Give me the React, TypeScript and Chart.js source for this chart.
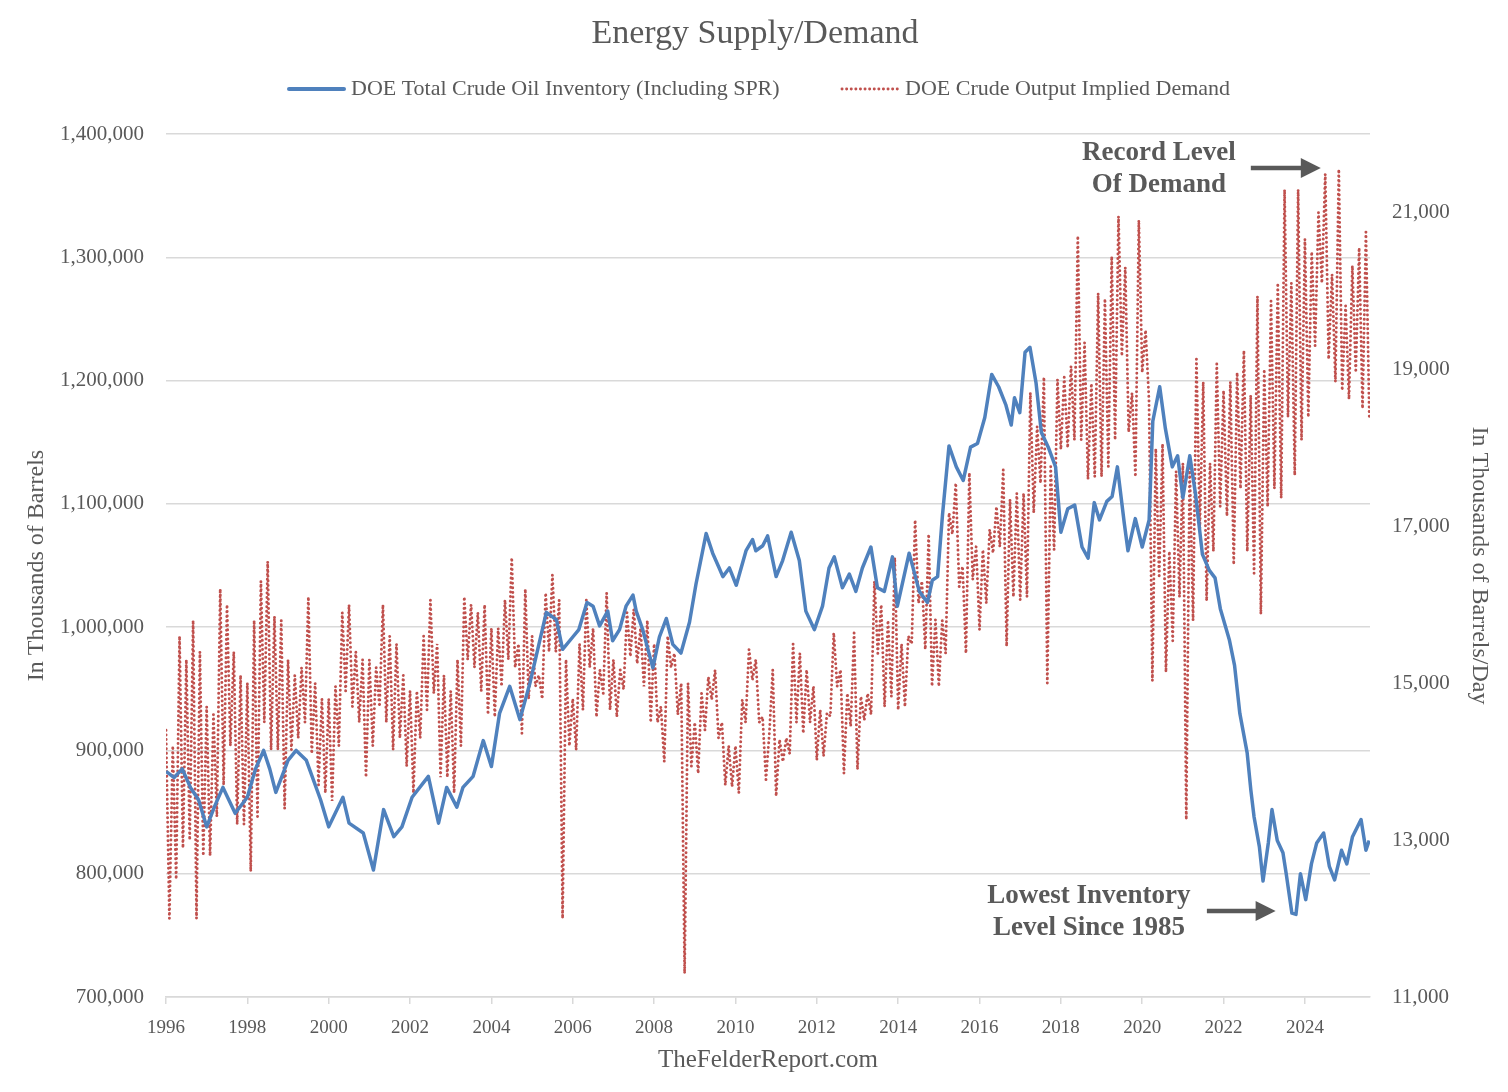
import React, { useEffect, useRef } from 'react';
import Chart from 'chart.js/auto';

const TEXT = '#595959';
const GRID = '#D9D9D9';
const BLUE = '#4F81BD';
const RED = '#C0504D';
const FONT = '"Liberation Serif", "Times New Roman", serif';

// axis ticks
const yearTicks = [1996, 1998, 2000, 2002, 2004, 2006, 2008, 2010, 2012, 2014, 2016, 2018, 2020, 2022, 2024];
const barrelTicks = [700000, 800000, 900000, 1000000, 1100000, 1200000, 1300000, 1400000];
const demandTicks = [11000, 13000, 15000, 17000, 19000, 21000];

// DOE total crude inventory incl. SPR (thousand barrels)
const invYears = [
  1996.0, 1996.2, 1996.4, 1996.6, 1996.8, 1997.0, 1997.2, 1997.4, 1997.7, 1998.0,
  1998.2, 1998.4, 1998.55, 1998.7, 1999.0, 1999.2, 1999.45, 1999.8, 2000.0, 2000.35,
  2000.5, 2000.85, 2001.1, 2001.35, 2001.6, 2001.8, 2002.05, 2002.45, 2002.7, 2002.9,
  2003.15, 2003.3, 2003.55, 2003.8, 2004.0, 2004.2, 2004.45, 2004.7, 2004.95, 2005.35,
  2005.6, 2005.75, 2006.0, 2006.15, 2006.35, 2006.5, 2006.66, 2006.86, 2006.98, 2007.15,
  2007.31, 2007.48, 2007.56, 2007.72, 2007.97, 2008.13, 2008.3, 2008.46, 2008.66, 2008.87,
  2009.03, 2009.28, 2009.44, 2009.6, 2009.69, 2009.85, 2010.02, 2010.26, 2010.42, 2010.5,
  2010.67, 2010.79, 2011.0, 2011.16, 2011.37, 2011.57, 2011.73, 2011.94, 2012.14, 2012.3,
  2012.43, 2012.63, 2012.8, 2012.96, 2013.12, 2013.33, 2013.49, 2013.66, 2013.86, 2013.98,
  2014.27, 2014.52, 2014.72, 2014.84, 2014.97, 2015.09, 2015.25, 2015.43, 2015.6, 2015.78,
  2015.95, 2016.13, 2016.3, 2016.47, 2016.65, 2016.78, 2016.86, 2016.99, 2017.12, 2017.24,
  2017.39, 2017.52, 2017.69, 2017.87, 2018.0, 2018.17, 2018.34, 2018.52, 2018.67, 2018.82,
  2018.95, 2019.13, 2019.26, 2019.39, 2019.56, 2019.65, 2019.83, 2020.0, 2020.17, 2020.26,
  2020.43, 2020.57, 2020.74, 2020.87, 2021.0, 2021.17, 2021.31, 2021.48, 2021.65, 2021.79,
  2021.92, 2022.14, 2022.27, 2022.4, 2022.49, 2022.58, 2022.67, 2022.75, 2022.88, 2022.97,
  2023.1, 2023.19, 2023.32, 2023.46, 2023.54, 2023.68, 2023.78, 2023.89, 2024.02, 2024.16,
  2024.29, 2024.46, 2024.6, 2024.73, 2024.9, 2025.03, 2025.17, 2025.38, 2025.5, 2025.58,
];
const invLevels = [
  883000, 878000, 885000, 870000, 860000, 838000, 855000, 870000, 849000, 862000,
  885000, 900000, 885000, 866000, 892000, 900000, 892000, 860000, 838000, 862000,
  841000, 833000, 803000, 852000, 830000, 838000, 862000, 879000, 841000, 870000,
  854000, 870000, 879000, 908000, 887000, 930000, 952000, 925000, 955000, 1012000,
  1006000, 982000, 992000, 998000, 1020000, 1017000, 1001000, 1013000, 989000, 998000,
  1017000, 1026000, 1013000, 998000, 967000, 992000, 1007000, 986000, 979000, 1004000,
  1035000, 1076000, 1060000, 1048000, 1041000, 1048000, 1034000, 1062000, 1071000, 1062000,
  1066000, 1074000, 1041000, 1054000, 1077000, 1054000, 1013000, 998000, 1017000, 1048000,
  1057000, 1032000, 1043000, 1029000, 1048000, 1065000, 1032000, 1029000, 1057000, 1017000,
  1060000, 1029000, 1020000, 1038000, 1041000, 1091000, 1147000, 1130000, 1119000, 1146000,
  1149000, 1170000, 1205000, 1195000, 1180000, 1164000, 1186000, 1174000, 1223000, 1227000,
  1198000, 1158000, 1146000, 1130000, 1077000, 1096000, 1099000, 1065000, 1056000, 1101000,
  1087000, 1102000, 1106000, 1130000, 1084000, 1062000, 1088000, 1065000, 1087000, 1167000,
  1195000, 1161000, 1130000, 1139000, 1105000, 1139000, 1108000, 1059000, 1046000, 1040000,
  1015000, 990000, 969000, 930000, 914000, 898000, 868000, 846000, 822000, 794000,
  825000, 852000, 827000, 817000, 800000, 768000, 767000, 800000, 779000, 808000,
  825000, 833000, 806000, 795000, 819000, 808000, 830000, 844000, 819000, 827000,
];

// DOE crude output implied demand (thousand b/d), monthly readings from Jan 1996
const demandStart = 1996;
const impliedDemand = [
  14400, 12000, 14200, 12500, 15600, 12900, 15300, 13000, 15800, 12000, 15400, 12800, // 1996
  14700, 12800, 14600, 13300, 16200, 13700, 16000, 14200, 15400, 13200, 15100, 13200, // 1997
  15000, 12600, 15800, 13300, 16300, 14500, 16550, 14150, 15850, 14150, 15800, 13400, // 1998
  15300, 14150, 15100, 14300, 15200, 14500, 16100, 14100, 15000, 13700, 14800, 13600, // 1999
  14800, 13500, 14960, 14200, 15900, 14900, 16000, 14700, 15400, 14500, 15300, 13800, // 2000
  15300, 14200, 15200, 14700, 16000, 14500, 15600, 14150, 15500, 14300, 15100, 13940, // 2001
  14900, 13600, 14900, 14300, 15600, 14660, 16060, 14870, 15500, 13800, 15100, 13800, // 2002
  14900, 13600, 15300, 14200, 16100, 15300, 16000, 15200, 15900, 14900, 16000, 14600, // 2003
  15700, 14570, 15700, 14960, 16060, 15300, 16600, 15200, 15500, 14360, 16200, 14800, // 2004
  15600, 14960, 15100, 14800, 16150, 15400, 16380, 15400, 16060, 12000, 15300, 14200, // 2005
  14800, 14150, 15500, 14660, 16060, 15200, 15700, 14570, 15170, 14870, 16150, 14660, // 2006
  15300, 14570, 15170, 14920, 15900, 15340, 15940, 15250, 15700, 14960, 15800, 14500, // 2007
  15500, 14500, 14700, 14000, 15600, 15200, 15380, 14600, 15000, 11300, 15000, 13940, // 2008
  14500, 13850, 14870, 14400, 15080, 14790, 15170, 14300, 14500, 13700, 14200, 13680, // 2009
  14200, 13600, 14790, 14500, 15430, 15040, 15300, 14500, 14570, 13770, 14360, 15170, // 2010
  13560, 14280, 14000, 14300, 14100, 15500, 14500, 15380, 14360, 15170, 14500, 14960, // 2011
  14020, 14660, 14070, 14620, 14580, 15640, 14960, 15170, 13850, 14870, 14450, 15640, // 2012
  13900, 14830, 14530, 14870, 14600, 16300, 15380, 16000, 14700, 15800, 14830, 16600, // 2013
  14660, 15500, 14700, 15600, 15500, 17080, 16020, 16300, 15430, 16900, 14960, 15810, // 2014
  14960, 15800, 15380, 17170, 16900, 17550, 16230, 16490, 15380, 17680, 16320, 16740, // 2015
  15680, 16700, 16020, 16960, 16660, 17250, 16740, 17720, 15470, 17340, 16100, 17420, // 2016
  16060, 17420, 16100, 18700, 17170, 18270, 17550, 18900, 15000, 17760, 16700, 18870, // 2017
  17980, 18900, 18000, 19040, 18100, 20700, 18100, 19340, 17600, 18820, 17630, 19970, // 2018
  17630, 19900, 17760, 20440, 18100, 20950, 19170, 20300, 18200, 18700, 17630, 20900, // 2019
  18960, 19500, 18600, 15030, 17990, 16340, 18050, 15140, 16680, 15540, 17700, 16100, // 2020
  17800, 13260, 17800, 15800, 19130, 16970, 18840, 16050, 17800, 16680, 19070, 17250, // 2021
  18730, 17130, 18840, 16510, 18960, 17480, 19240, 16680, 18670, 16400, 19930, 15880, // 2022
  19000, 17250, 19870, 17480, 20100, 17360, 21290, 18390, 20100, 17650, 21290, 18100, // 2023
  20660, 18390, 20500, 19300, 21000, 20100, 21490, 19130, 20210, 18840, 21550, 18730, // 2024
  19810, 18620, 20320, 18960, 20550, 18500, 20750, 18390, // 2025
];

// callouts, anchored on year / left-axis level
const callouts = [
  { lines: ['Record Level', 'Of Demand'], year: 2020.41, levels: [1384600, 1358600], arrowFrom: 2022.67, arrowTo: 2024.39, arrowLevel: 1372400 },
  { lines: ['Lowest Inventory', 'Level Since 1985'], year: 2018.69, levels: [782000, 756000], arrowFrom: 2021.59, arrowTo: 2023.28, arrowLevel: 769800 },
];

const decorations = {
  id: 'decorations',
  afterDraw(chart: any) {
    const { ctx } = chart;
    const xs = chart.scales.x;
    const ys = chart.scales.y;
    ctx.save();

    // title
    ctx.fillStyle = TEXT;
    ctx.textAlign = 'center';
    ctx.textBaseline = 'middle';
    ctx.font = `34px ${FONT}`;
    ctx.fillText('Energy Supply/Demand', 755, 34);

    // legend
    ctx.font = `22px ${FONT}`;
    ctx.textAlign = 'left';
    ctx.lineCap = 'round';
    ctx.strokeStyle = BLUE;
    ctx.lineWidth = 4;
    ctx.beginPath();
    ctx.moveTo(289, 89);
    ctx.lineTo(344, 89);
    ctx.stroke();
    ctx.fillText('DOE Total Crude Oil Inventory (Including SPR)', 351, 89);
    ctx.strokeStyle = RED;
    ctx.lineWidth = 2.9;
    ctx.setLineDash([0.1, 4.5]);
    ctx.beginPath();
    ctx.moveTo(842, 89);
    ctx.lineTo(898, 89);
    ctx.stroke();
    ctx.setLineDash([]);
    ctx.fillText('DOE Crude Output Implied Demand', 905, 89);

    // callouts
    ctx.font = `bold 27px ${FONT}`;
    ctx.textAlign = 'center';
    ctx.fillStyle = TEXT;
    callouts.forEach(c => {
      const cx = xs.getPixelForValue(c.year);
      c.lines.forEach((t, i) => ctx.fillText(t, cx, ys.getPixelForValue(c.levels[i])));
      const x1 = xs.getPixelForValue(c.arrowFrom);
      const x2 = xs.getPixelForValue(c.arrowTo);
      const ay = ys.getPixelForValue(c.arrowLevel);
      ctx.strokeStyle = TEXT;
      ctx.lineWidth = 4.5;
      ctx.lineCap = 'butt';
      ctx.beginPath();
      ctx.moveTo(x1, ay);
      ctx.lineTo(x2 - 18, ay);
      ctx.stroke();
      ctx.beginPath();
      ctx.moveTo(x2, ay);
      ctx.lineTo(x2 - 20, ay - 10);
      ctx.lineTo(x2 - 20, ay + 10);
      ctx.closePath();
      ctx.fill();
    });

    ctx.restore();
  },
};

export default function App() {
  const canvasRef = useRef<HTMLCanvasElement>(null);

  useEffect(() => {
    if (!canvasRef.current) return;

    const chart = new Chart(canvasRef.current, {
      type: 'line',
      data: {
        datasets: [
          {
            label: 'DOE Total Crude Oil Inventory (Including SPR)',
            data: invYears.map((x, i) => ({ x, y: invLevels[i] })),
            yAxisID: 'y',
            borderColor: BLUE,
            borderWidth: 3.5,
            pointRadius: 0,
            tension: 0,
            borderJoinStyle: 'round',
          },
          {
            label: 'DOE Crude Output Implied Demand',
            data: impliedDemand.map((v, i) => ({ x: demandStart + i / 12, y: v })),
            yAxisID: 'y1',
            borderColor: RED,
            borderWidth: 2.9,
            borderDash: [0.1, 4.5],
            borderCapStyle: 'round',
            pointRadius: 0,
            tension: 0,
          },
        ],
      },
      options: {
        responsive: false,
        animation: false,
        events: [],
        layout: { padding: { top: 134, left: 0, right: 0, bottom: 0 } },
        plugins: {
          legend: { display: false },
          title: { display: false },
          tooltip: { enabled: false },
        },
        scales: {
          x: {
            type: 'linear',
            min: 1996,
            max: 2025.6,
            afterFit: (s: any) => { s.height = 95; },
            afterBuildTicks: (s: any) => { s.ticks = yearTicks.map(value => ({ value })); },
            grid: { drawOnChartArea: false, drawTicks: true, tickLength: 7, color: GRID, lineWidth: 1.5 },
            border: { display: true, color: GRID, width: 1.5 },
            ticks: {
              autoSkip: false,
              maxRotation: 0,
              padding: 13,
              color: TEXT,
              font: { family: FONT, size: 19 },
              callback: (v: any) => String(v),
            },
            title: {
              display: true,
              text: 'TheFelderReport.com',
              color: TEXT,
              font: { family: FONT, size: 25 },
              padding: { top: 0, bottom: 17 },
            },
          },
          y: {
            position: 'left',
            min: 700000,
            max: 1400000,
            afterFit: (s: any) => { s.width = 166; },
            afterBuildTicks: (s: any) => { s.ticks = barrelTicks.map(value => ({ value })); },
            grid: { color: GRID, lineWidth: 1.5, drawTicks: false },
            border: { display: false },
            ticks: {
              padding: 22,
              color: TEXT,
              font: { family: FONT, size: 21 },
              callback: (v: any) => Number(v).toLocaleString('en-US'),
            },
            title: {
              display: true,
              text: 'In Thousands of Barrels',
              color: TEXT,
              font: { family: FONT, size: 24 },
              padding: { top: 22, bottom: 0 },
            },
          },
          y1: {
            position: 'right',
            min: 11000,
            max: 22000,
            afterFit: (s: any) => { s.width = 138; },
            afterBuildTicks: (s: any) => { s.ticks = demandTicks.map(value => ({ value })); },
            grid: { display: false, drawOnChartArea: false, drawTicks: false },
            border: { display: false },
            ticks: {
              padding: 22,
              color: TEXT,
              font: { family: FONT, size: 21 },
              callback: (v: any) => Number(v).toLocaleString('en-US'),
            },
            title: {
              display: true,
              text: 'In Thousands of Barrels/Day',
              color: TEXT,
              font: { family: FONT, size: 24 },
              padding: { top: 14, bottom: 0 },
            },
          },
        },
      },
      plugins: [decorations],
    });

    return () => chart.destroy();
  }, []);

  return (
    <div style={{ position: 'absolute', left: 0, top: 0, width: 1508, height: 1092, background: '#ffffff' }}>
      <canvas ref={canvasRef} width={1508} height={1092} style={{ display: 'block' }} />
    </div>
  );
}
